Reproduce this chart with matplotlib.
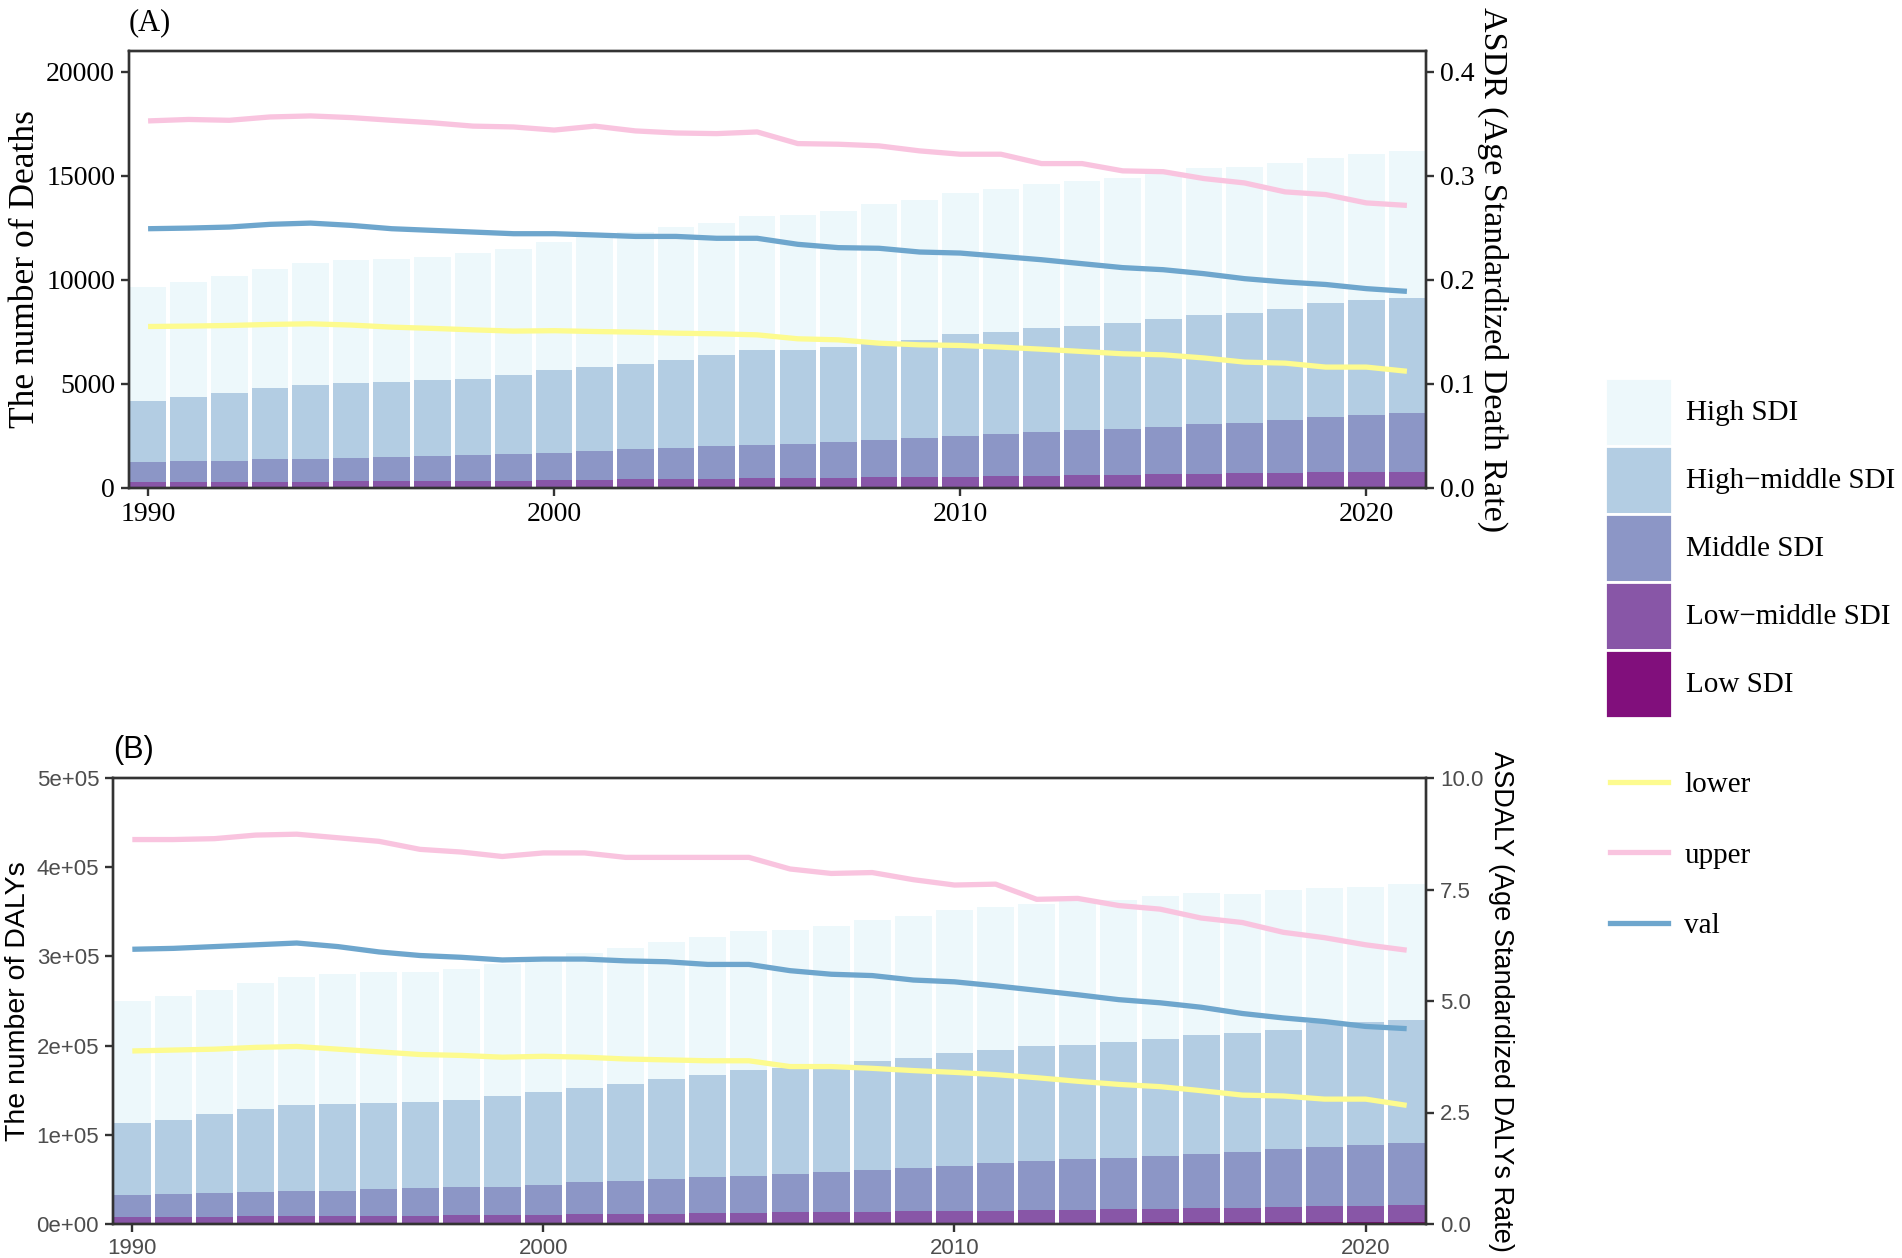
import numpy as np
import matplotlib
matplotlib.use("Agg")
import matplotlib.pyplot as plt
from matplotlib.patches import Patch
from matplotlib.lines import Line2D

years = np.arange(1990, 2022)
regions = ["High SDI", "High\u2212middle SDI", "Middle SDI", "Low\u2212middle SDI", "Low SDI"]
region_colors = ["#edf8fb", "#b3cde3", "#8c96c6", "#8856a7", "#810f7c"]

# (A) deaths, top of each SDI bar (bars overlap from zero)
deaths_high = [9650, 9900, 10200, 10500, 10800, 10950, 11000, 11100, 11300, 11500, 11800, 12100,
               12300, 12540, 12730, 13090, 13140, 13310, 13630, 13820, 14180, 14370, 14610, 14770,
               14880, 15100, 15400, 15430, 15600, 15880, 16040, 16180]
deaths_highmid = [4200, 4360, 4550, 4800, 4960, 5040, 5100, 5180, 5260, 5440, 5650, 5800,
                  5970, 6160, 6370, 6610, 6640, 6780, 7010, 7120, 7380, 7520, 7680, 7790,
                  7940, 8130, 8320, 8420, 8610, 8890, 9050, 9130]
deaths_mid = [1230, 1280, 1320, 1380, 1410, 1440, 1490, 1520, 1570, 1620, 1700, 1760,
              1860, 1920, 2000, 2050, 2130, 2200, 2310, 2420, 2500, 2610, 2710, 2770,
              2840, 2950, 3060, 3140, 3270, 3400, 3510, 3590]
deaths_lowmid = [270, 280, 290, 300, 310, 320, 330, 340, 350, 360, 380, 400,
                 410, 430, 450, 480, 490, 500, 520, 540, 550, 570, 590, 610,
                 630, 670, 690, 700, 720, 750, 770, 790]
deaths_low = [40, 41, 42, 43, 44, 45, 46, 47, 48, 49, 50, 51,
              52, 53, 54, 55, 56, 57, 58, 59, 60, 61, 62, 63,
              64, 65, 66, 67, 68, 69, 70, 71]

# (A) age standardized death rate
asdr_lower = [0.1552, 0.1556, 0.1562, 0.1572, 0.1578, 0.1566, 0.1546, 0.1534, 0.1520, 0.1508, 0.1512, 0.1504,
              0.1498, 0.1488, 0.1482, 0.1472, 0.1434, 0.1424, 0.1392, 0.1376, 0.1370, 0.1354, 0.1334, 0.1312,
              0.1290, 0.1280, 0.1250, 0.1210, 0.1200, 0.1162, 0.1162, 0.1122]
asdr_upper = [0.3528, 0.3542, 0.3534, 0.3566, 0.3576, 0.3560, 0.3534, 0.3510, 0.3478, 0.3470, 0.3440, 0.3478,
              0.3432, 0.3412, 0.3406, 0.3422, 0.3310, 0.3304, 0.3288, 0.3240, 0.3208, 0.3208, 0.3118, 0.3118,
              0.3048, 0.3040, 0.2974, 0.2932, 0.2846, 0.2820, 0.2740, 0.2716]
asdr_val = [0.2492, 0.2498, 0.2508, 0.2534, 0.2546, 0.2524, 0.2492, 0.2476, 0.2460, 0.2444, 0.2444, 0.2432,
            0.2418, 0.2418, 0.2400, 0.2400, 0.2342, 0.2310, 0.2304, 0.2268, 0.2258, 0.2226, 0.2194, 0.2156,
            0.2118, 0.2098, 0.2060, 0.2012, 0.1980, 0.1956, 0.1916, 0.1890]

# (B) DALYs, top of each SDI bar
dalys_high = [2.50e5, 2.56e5, 2.62e5, 2.70e5, 2.77e5, 2.80e5, 2.82e5, 2.83e5, 2.86e5, 2.92e5, 2.96e5, 3.04e5,
              3.09e5, 3.16e5, 3.22e5, 3.29e5, 3.30e5, 3.34e5, 3.41e5, 3.45e5, 3.52e5, 3.55e5, 3.59e5, 3.62e5,
              3.63e5, 3.68e5, 3.71e5, 3.70e5, 3.74e5, 3.77e5, 3.78e5, 3.81e5]
dalys_highmid = [1.13e5, 1.17e5, 1.23e5, 1.29e5, 1.33e5, 1.35e5, 1.36e5, 1.37e5, 1.39e5, 1.43e5, 1.48e5, 1.53e5,
                 1.57e5, 1.62e5, 1.67e5, 1.73e5, 1.75e5, 1.76e5, 1.83e5, 1.86e5, 1.92e5, 1.95e5, 1.99e5, 2.01e5,
                 2.04e5, 2.07e5, 2.12e5, 2.14e5, 2.18e5, 2.25e5, 2.27e5, 2.29e5]
dalys_mid = [0.33e5, 0.34e5, 0.35e5, 0.36e5, 0.37e5, 0.375e5, 0.39e5, 0.40e5, 0.41e5, 0.42e5, 0.44e5, 0.466e5,
             0.485e5, 0.505e5, 0.524e5, 0.54e5, 0.56e5, 0.58e5, 0.60e5, 0.63e5, 0.655e5, 0.686e5, 0.71e5, 0.724e5,
             0.736e5, 0.76e5, 0.78e5, 0.81e5, 0.836e5, 0.863e5, 0.886e5, 0.909e5]
dalys_lowmid = [8000, 8200, 8400, 8600, 8800, 9000, 9200, 9400, 9700, 10000, 10400, 10800,
                11200, 11600, 12100, 12700, 13100, 13500, 13900, 14200, 14600, 15100, 15500, 15900,
                16300, 17000, 17600, 18200, 18900, 20000, 20500, 21000]
dalys_low = [1200, 1220, 1240, 1260, 1280, 1300, 1320, 1340, 1360, 1380, 1400, 1420,
             1440, 1460, 1480, 1500, 1520, 1540, 1560, 1580, 1600, 1620, 1640, 1660,
             1680, 1700, 1720, 1740, 1760, 1780, 1800, 1820]

# (B) age standardized DALY rate
asdaly_lower = [3.88, 3.90, 3.92, 3.96, 3.98, 3.92, 3.86, 3.80, 3.78, 3.74, 3.76, 3.74,
                3.70, 3.68, 3.66, 3.66, 3.53, 3.53, 3.49, 3.44, 3.40, 3.35, 3.28, 3.20,
                3.13, 3.08, 2.99, 2.89, 2.87, 2.80, 2.80, 2.66]
asdaly_upper = [8.62, 8.62, 8.64, 8.72, 8.74, 8.66, 8.58, 8.40, 8.34, 8.24, 8.32, 8.32,
                8.22, 8.22, 8.22, 8.22, 7.96, 7.86, 7.88, 7.72, 7.60, 7.62, 7.28, 7.30,
                7.14, 7.06, 6.86, 6.76, 6.54, 6.42, 6.26, 6.14]
asdaly_val = [6.16, 6.18, 6.22, 6.26, 6.30, 6.22, 6.10, 6.02, 5.98, 5.92, 5.94, 5.94,
              5.90, 5.88, 5.82, 5.82, 5.68, 5.60, 5.57, 5.47, 5.43, 5.34, 5.24, 5.14,
              5.03, 4.96, 4.86, 4.72, 4.62, 4.54, 4.43, 4.38]

line_colors = {"lower": "#fdfb8f", "upper": "#f9c4df", "val": "#6ea6cd"}
LW = 3.8

plt.rcParams["axes.linewidth"] = 1.7

fig = plt.figure(figsize=(19.02, 12.58), dpi=100)
W, H = 1902.0, 1258.0


def panel(rect, bars, lines, ymax, ratio, yticks, ytl, rticks, rtl, ylab, rlab, tag, tag_y,
          font, tsize, lsize, rsize, tagsize, tcolor, lpad, rpad):
    ax = fig.add_axes([rect[0] / W, 1 - rect[3] / H, (rect[2] - rect[0]) / W, (rect[3] - rect[1]) / H])
    for vals, c in zip(bars, region_colors):
        ax.bar(years, vals, width=0.9, color=c, linewidth=0, zorder=1)
    ax.set_xlim(1989.53, 2021.47)
    ax.set_ylim(0, ymax)
    ax.set_xticks([1990, 2000, 2010, 2020])
    ax.set_yticks(yticks)
    ax.set_yticklabels(ytl)
    ax2 = ax.twinx()
    ax2.set_ylim(0, ymax / ratio)
    for name in ["lower", "upper", "val"]:
        ax2.plot(years, lines[name], color=line_colors[name], lw=LW, solid_capstyle="butt")
    ax2.set_yticks(rticks)
    ax2.set_yticklabels(rtl)
    for a in (ax, ax2):
        for s in a.spines.values():
            s.set_color("#333333")
        a.tick_params(length=6, width=1.7, color="#333333", labelsize=tsize, labelcolor=tcolor,
                      pad=4)
        for t in a.get_xticklabels() + a.get_yticklabels():
            t.set_family(font)
    ax.set_ylabel(ylab, fontsize=lsize, family=font, labelpad=lpad)
    ax2.set_ylabel(rlab, fontsize=rsize, family=font, rotation=-90, labelpad=rpad)
    fig.text(rect[0] / W, 1 - tag_y / H, tag, fontsize=tagsize, family=font,
             ha="left", va="center")
    return ax


panel((129, 51, 1426, 488),
      [deaths_high, deaths_highmid, deaths_mid, deaths_lowmid, deaths_low],
      {"lower": asdr_lower, "upper": asdr_upper, "val": asdr_val},
      21000, 50000, [0, 5000, 10000, 15000, 20000], ["0", "5000", "10000", "15000", "20000"],
      [0, 0.1, 0.2, 0.3, 0.4], ["0.0", "0.1", "0.2", "0.3", "0.4"],
      "The number of Deaths", "ASDR (Age Standardized Death Rate)", "(A)", 23,
      "Liberation Serif", 20, 25.5, 24.5, 22, "black", 3, 24)

panel((113, 778, 1426, 1224),
      [dalys_high, dalys_highmid, dalys_mid, dalys_lowmid, dalys_low],
      {"lower": asdaly_lower, "upper": asdaly_upper, "val": asdaly_val},
      5e5, 50000, [0, 1e5, 2e5, 3e5, 4e5, 5e5], ["0e+00", "1e+05", "2e+05", "3e+05", "4e+05", "5e+05"],
      [0, 2.5, 5, 7.5, 10], ["0.0", "2.5", "5.0", "7.5", "10.0"],
      "The number of DALYs", "ASDALY (Age Standardized DALYs Rate)", "(B)", 750,
      "Liberation Sans", 16, 20.5, 19.5, 22, "#4d4d4d", 4, 22)

# shared legend on the right
leg_font = {"family": "Liberation Serif", "size": 21}
handles = [Patch(facecolor=c, edgecolor="white", linewidth=2) for c in region_colors]
fig.legend(handles, regions, loc="upper left", bbox_to_anchor=(1605 / W, 1 - 378 / H),
           frameon=False, prop=leg_font, handlelength=2.3, handleheight=3.21,
           handletextpad=0.48, labelspacing=0.0, borderaxespad=0, borderpad=0)
line_handles = [Line2D([], [], color=line_colors[n], lw=LW) for n in ["lower", "upper", "val"]]
fig.legend(line_handles, ["lower", "upper", "val"], loc="upper left",
           bbox_to_anchor=(1610 / W, 1 - 772 / H), frameon=False, prop=leg_font,
           handlelength=2.0, handletextpad=0.55, labelspacing=1.5, borderaxespad=0, borderpad=0)

fig.savefig("out.png", dpi=100)
